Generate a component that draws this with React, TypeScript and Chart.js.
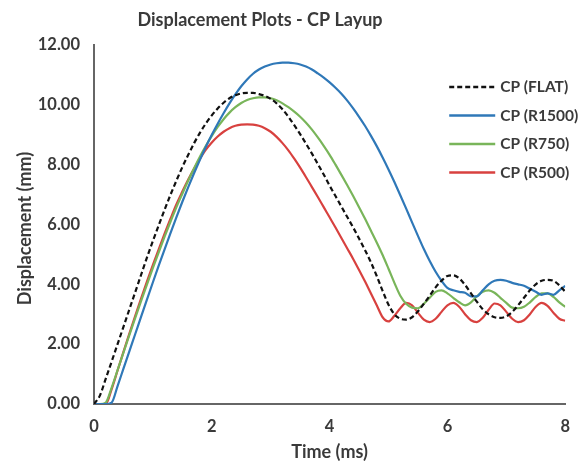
import { useEffect, useRef } from "react";
import { Chart, registerables } from "chart.js";

Chart.register(...registerables);

const TIME = [
  0.0, 0.1, 0.2, 0.3, 0.4, 0.5, 0.6, 0.7, 0.8, 0.9,
  1.0, 1.1, 1.2, 1.3, 1.4, 1.5, 1.6, 1.7, 1.8, 1.9,
  2.0, 2.1, 2.2, 2.3, 2.4, 2.5, 2.6, 2.7, 2.8, 2.9,
  3.0, 3.1, 3.2, 3.3, 3.4, 3.5, 3.6, 3.7, 3.8, 3.9,
  4.0, 4.1, 4.2, 4.3, 4.4, 4.5, 4.6, 4.7, 4.8, 4.9,
  5.0, 5.1, 5.2, 5.3, 5.4, 5.5, 5.6, 5.7, 5.8, 5.9,
  6.0, 6.1, 6.2, 6.3, 6.4, 6.5, 6.6, 6.7, 6.8, 6.9,
  7.0, 7.1, 7.2, 7.3, 7.4, 7.5, 7.6, 7.7, 7.8, 7.9,
  8.0,
];

const CP_FLAT = [
  0, 0.28, 0.85, 1.42, 2.0, 2.58, 3.16, 3.74, 4.32, 4.9,
  5.45, 5.98, 6.5, 7.0, 7.47, 7.92, 8.33, 8.72, 9.07, 9.38,
  9.65, 9.88, 10.07, 10.22, 10.32, 10.38, 10.4, 10.4, 10.36, 10.3,
  10.2, 10.05, 9.85, 9.6, 9.32, 9.02, 8.7, 8.37, 8.02, 7.67,
  7.3, 6.95, 6.6, 6.25, 5.9, 5.53, 5.15, 4.74, 4.28, 3.78,
  3.32, 3.0, 2.85, 2.82, 2.9, 3.1, 3.35, 3.62, 3.9, 4.12,
  4.28, 4.3, 4.2, 3.98, 3.7, 3.42, 3.17, 3.0, 2.9, 2.88,
  2.93, 3.08, 3.3, 3.55, 3.8, 4.0, 4.12, 4.15, 4.12, 3.97,
  3.75,
];

const CP_R1500 = [
  0, 0, 0, 0.05, 0.6, 1.18, 1.76, 2.34, 2.92, 3.5,
  4.07, 4.63, 5.18, 5.72, 6.25, 6.76, 7.25, 7.72, 8.17, 8.6,
  9.0, 9.37, 9.72, 10.05, 10.35, 10.62, 10.85, 11.04, 11.18, 11.28,
  11.35, 11.39, 11.41, 11.41, 11.39, 11.35, 11.28, 11.18, 11.05, 10.91,
  10.75, 10.57, 10.37, 10.14, 9.88, 9.6, 9.3, 8.97, 8.62, 8.24,
  7.84, 7.42, 6.98, 6.53, 6.07, 5.62, 5.18, 4.78, 4.42, 4.12,
  3.88, 3.8, 3.75, 3.72, 3.6, 3.6, 3.8, 4.0, 4.12, 4.15,
  4.12, 4.05, 4.0, 3.95, 3.85, 3.75, 3.65, 3.7, 3.65, 3.8,
  3.95,
];

const CP_R750 = [
  0, 0, 0.05, 0.55, 1.13, 1.72, 2.3, 2.88, 3.45, 4.0,
  4.55, 5.08, 5.6, 6.1, 6.58, 7.03, 7.47, 7.88, 8.27, 8.63,
  8.96, 9.26, 9.52, 9.74, 9.92, 10.06, 10.16, 10.22, 10.25, 10.25,
  10.22, 10.15, 10.05, 9.92, 9.77, 9.6, 9.4, 9.17, 8.91, 8.63,
  8.33, 8.0, 7.66, 7.31, 6.95, 6.58, 6.2, 5.8, 5.4, 4.98,
  4.52, 4.05, 3.62, 3.35, 3.22, 3.2, 3.35, 3.55, 3.75, 3.8,
  3.7, 3.55, 3.4, 3.3, 3.4, 3.6, 3.75, 3.8, 3.72, 3.55,
  3.38, 3.22, 3.2, 3.25, 3.4, 3.58, 3.7, 3.7, 3.58, 3.4,
  3.25,
];

const CP_R500 = [
  0, 0, 0, 0.5, 1.12, 1.74, 2.35, 2.95, 3.53, 4.1,
  4.65, 5.18, 5.7, 6.2, 6.68, 7.1, 7.5, 7.87, 8.2, 8.5,
  8.74, 8.94, 9.1, 9.22, 9.3, 9.34, 9.35, 9.34, 9.3, 9.22,
  9.1, 8.93, 8.72, 8.48, 8.2, 7.9, 7.58, 7.25, 6.92, 6.58,
  6.24, 5.9, 5.55, 5.2, 4.85, 4.48, 4.1, 3.7, 3.3, 2.9,
  2.76, 2.95, 3.2, 3.38, 3.3, 3.05, 2.82, 2.74, 2.85, 3.08,
  3.3, 3.38, 3.25, 3.0, 2.8, 2.74, 2.88, 3.15, 3.36, 3.3,
  3.08, 2.85, 2.74, 2.8, 3.0, 3.25, 3.38, 3.28, 3.05, 2.85,
  2.78,
];

const SERIES_LABELS = ["CP (FLAT)", "CP (R1500)", "CP (R750)", "CP (R500)"];
const SERIES_COLORS = ["#111111", "#2f78b8", "#79b55a", "#d8413f"];

const TITLE = "Displacement Plots - CP Layup";
const X_TITLE = "Time (ms)";
const Y_TITLE = "Displacement (mm)";

const FONT = "Lato, 'Open Sans', sans-serif";
const TEXT_COLOR = "#3a3a3a";

// Chart title, y-axis title and the in-plot legend, drawn as canvas text.
const annotations = {
  id: "annotations",
  afterDraw(chart: any) {
    const { ctx, chartArea } = chart;
    ctx.save();
    ctx.fillStyle = TEXT_COLOR;
    ctx.textBaseline = "middle";
    ctx.textAlign = "center";

    ctx.font = `bold 18px ${FONT}`;
    ctx.fillText(TITLE, 260, 20);

    ctx.save();
    ctx.translate(25, (chartArea.top + chartArea.bottom) / 2 + 4);
    ctx.rotate(-Math.PI / 2);
    ctx.font = `bold 18px ${FONT}`;
    ctx.fillText(Y_TITLE, 0, 0);
    ctx.restore();

    chart.data.datasets.forEach((ds: any, i: number) => {
      const y = chartArea.top + 42 + i * 28.5;
      const x0 = chartArea.right - 116;
      ctx.beginPath();
      ctx.strokeStyle = ds.borderColor;
      ctx.lineWidth = 2.6;
      ctx.setLineDash(ds.borderDash || []);
      ctx.moveTo(x0, y);
      ctx.lineTo(x0 + 46, y);
      ctx.stroke();
      ctx.setLineDash([]);
      ctx.fillStyle = TEXT_COLOR;
      ctx.font = `bold 15.5px ${FONT}`;
      ctx.textAlign = "left";
      ctx.fillText(ds.label, x0 + 51, y);
    });
    ctx.restore();
  },
};

export default function App() {
  const ref = useRef<HTMLCanvasElement | null>(null);

  useEffect(() => {
    if (!ref.current) return;
    const series = [CP_FLAT, CP_R1500, CP_R750, CP_R500];
    const chart = new Chart(ref.current, {
      type: "line",
      data: {
        datasets: series.map((vals, i) => ({
          label: SERIES_LABELS[i],
          data: TIME.map((t, k) => ({ x: t, y: vals[k] })),
          borderColor: SERIES_COLORS[i],
          backgroundColor: SERIES_COLORS[i],
          borderWidth: 2.2,
          borderDash: i === 0 ? [5, 3] : [],
          pointRadius: 0,
          cubicInterpolationMode: "monotone" as const,
          fill: false,
        })),
      },
      options: {
        animation: false,
        responsive: false,
        layout: { padding: { left: 0, right: 15, top: 45, bottom: 0 } },
        plugins: {
          legend: { display: false },
          tooltip: { enabled: false },
          title: { display: false },
        },
        scales: {
          x: {
            type: "linear",
            min: 0,
            max: 8,
            ticks: {
              stepSize: 2,
              color: TEXT_COLOR,
              font: { family: FONT, size: 16.5, weight: "bold" },
              padding: 13,
              maxRotation: 0,
            },
            grid: { display: false, drawTicks: false },
            border: { display: true, color: "#666666", width: 2 },
            title: {
              display: true,
              text: X_TITLE,
              color: TEXT_COLOR,
              font: { family: FONT, size: 18, weight: "bold" },
              padding: { top: 0, bottom: 3 },
            },
            afterFit: (s: any) => {
              s.height = 62;
            },
          },
          y: {
            min: 0,
            max: 12,
            ticks: {
              stepSize: 2,
              color: TEXT_COLOR,
              font: { family: FONT, size: 16.5, weight: "bold" },
              padding: 14,
              callback: (v: any) => Number(v).toFixed(2),
            },
            grid: { display: false, drawTicks: false },
            border: { display: true, color: "#666666", width: 2 },
            title: { display: false },
            afterFit: (s: any) => {
              s.width = 94;
            },
          },
        },
      },
      plugins: [annotations],
    });
    return () => chart.destroy();
  }, []);

  return (
    <div style={{ position: "absolute", left: 0, top: 0, width: 583, height: 466, background: "#fff" }}>
      <canvas ref={ref} width={583} height={466} style={{ display: "block" }} />
    </div>
  );
}
